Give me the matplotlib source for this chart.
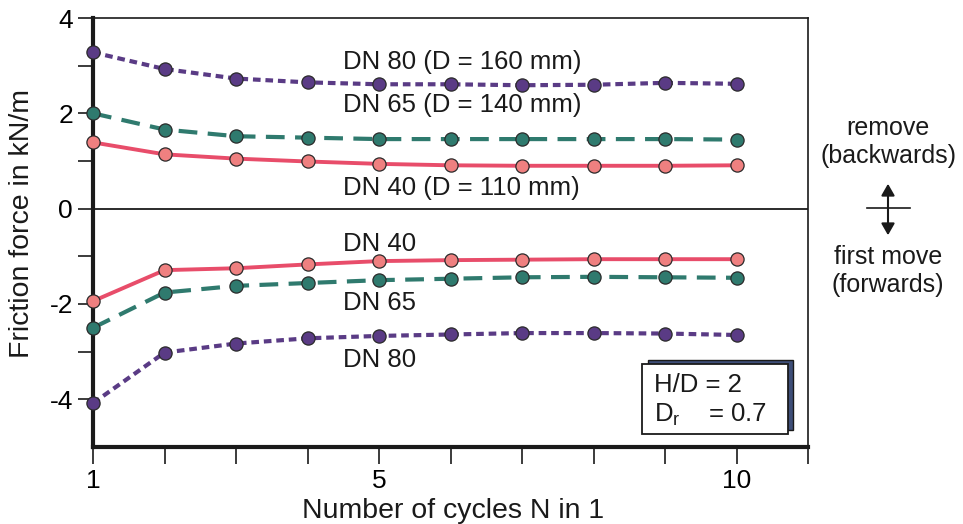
import matplotlib.pyplot as plt
from matplotlib.patches import Rectangle, FancyArrowPatch
from matplotlib.lines import Line2D

plt.rcParams['font.family'] = ['Liberation Sans', 'DejaVu Sans']
plt.rcParams['lines.scale_dashes'] = False

cycles = [1, 2, 3, 4, 5, 6, 7, 8, 9, 10]

# remove (backwards), positive
dn80_back = [3.28, 2.93, 2.73, 2.65, 2.61, 2.61, 2.59, 2.60, 2.64, 2.62]
dn65_back = [2.00, 1.66, 1.52, 1.49, 1.46, 1.46, 1.46, 1.46, 1.46, 1.45]
dn40_back = [1.39, 1.14, 1.05, 0.99, 0.94, 0.91, 0.90, 0.90, 0.90, 0.91]

# first move (forwards), negative
dn40_fwd = [-1.94, -1.29, -1.25, -1.17, -1.10, -1.08, -1.07, -1.06, -1.06, -1.06]
dn65_fwd = [-2.50, -1.76, -1.62, -1.56, -1.50, -1.47, -1.44, -1.43, -1.44, -1.45]
dn80_fwd = [-4.08, -3.02, -2.83, -2.72, -2.67, -2.64, -2.61, -2.61, -2.62, -2.65]

red_line = '#e84d6a'
red_face = '#ef8080'
teal = '#2f7a6e'
purple = '#5a3b85'
ink = '#1a1a1a'

fig = plt.figure(figsize=(9.63, 5.24), dpi=100)
ax = fig.add_axes([0.0966, 0.147, 0.7425, 0.8186])

mk = dict(marker='o', markersize=9.5, markeredgecolor='#2a2a2a',
          markeredgewidth=0.9, clip_on=False, zorder=4)

for vals in (dn80_back, dn80_fwd):
    ax.plot(cycles, vals, color=purple, lw=3, dashes=(5.5, 3.5),
            markerfacecolor=purple, **mk)
for vals in (dn65_back, dn65_fwd):
    ax.plot(cycles, vals, color=teal, lw=3, dashes=(13.5, 7.5),
            markerfacecolor=teal, **mk)
for vals in (dn40_back, dn40_fwd):
    ax.plot(cycles, vals, color=red_line, lw=2.8,
            markerfacecolor=red_face, **mk)

ax.axhline(0, color=ink, lw=1.3, zorder=1)

ax.set_xlim(1, 11)
ax.set_ylim(-5, 4)

ax.set_xticks(range(1, 12))
ax.set_xticklabels(['1', '', '', '', '5', '', '', '', '', '10', ''])
ax.set_yticks([4, 2, 0, -2, -4])
ax.set_yticklabels(['4', '2', '0', '-2', '-4'])
ax.set_yticks([3, 1, -1, -3], minor=True)

ax.tick_params(axis='x', direction='out', length=12, width=1.2, pad=4,
               labelsize=19, color=ink)
ax.tick_params(axis='y', which='both', direction='out', length=11, width=1.2,
               pad=3.5, labelsize=19, color=ink)

for side in ('left', 'bottom'):
    ax.spines[side].set_linewidth(3)
for side in ('top', 'right'):
    ax.spines[side].set_linewidth(1.2)
for sp in ax.spines.values():
    sp.set_color(ink)

ax.set_ylabel('Friction force in kN/m', fontsize=20.5, color=ink)
ax.yaxis.set_label_coords(-0.099, 0.52)
ax.yaxis.label.set_va('center')
ax.set_xlabel('Number of cycles N in 1', fontsize=20.5, color=ink)
ax.xaxis.set_label_coords(0.503, -0.149)
ax.xaxis.label.set_va('center')

txt = dict(fontsize=18.5, color=ink, va='center', ha='left')
ax.text(4.49, 3.07, 'DN 80 (D = 160 mm)', **txt)
ax.text(4.49, 2.17, 'DN 65 (D = 140 mm)', **txt)
ax.text(4.49, 0.44, 'DN 40 (D = 110 mm)', **txt)
ax.text(4.49, -0.74, 'DN 40', **txt)
ax.text(4.49, -1.98, 'DN 65', **txt)
ax.text(4.49, -3.18, 'DN 80', **txt)

# parameter box with shadow (figure pixels -> fraction)
W, H = 963, 524
def fx(px):
    return px / W
def fy(py):
    return 1 - py / H

fig.add_artist(Rectangle((fx(648), fy(430)), fx(793) - fx(648), fy(360) - fy(430),
                         facecolor='#3e4e78', edgecolor=ink, lw=1, zorder=5))
fig.add_artist(Rectangle((fx(642), fy(434)), fx(788) - fx(642), fy(364) - fy(434),
                         facecolor='white', edgecolor=ink, lw=1.3, zorder=6))
fig.text(fx(654), fy(385), 'H/D = 2', fontsize=18.5, va='center', ha='left',
         color=ink, zorder=7)
fig.text(fx(654), fy(415), r'D$_\mathregular{r}$    = 0.7', fontsize=18.5, va='center',
         ha='left', color=ink, zorder=7)

# right side annotation
fig.text(fx(888), fy(142), 'remove\n(backwards)', fontsize=18, ha='center',
         va='center', color=ink, linespacing=1.25)
fig.text(fx(888), fy(271), 'first move\n(forwards)', fontsize=18, ha='center',
         va='center', color=ink, linespacing=1.25)
fig.add_artist(Line2D([fx(867), fx(910)], [fy(208), fy(208)], color=ink, lw=1.2))
fig.add_artist(FancyArrowPatch(
    (fx(888), fy(181)), (fx(888), fy(238)), transform=fig.transFigure,
    arrowstyle='<|-|>,head_length=7,head_width=4', color=ink, lw=1.5))

fig.savefig('out.png', dpi=100)
